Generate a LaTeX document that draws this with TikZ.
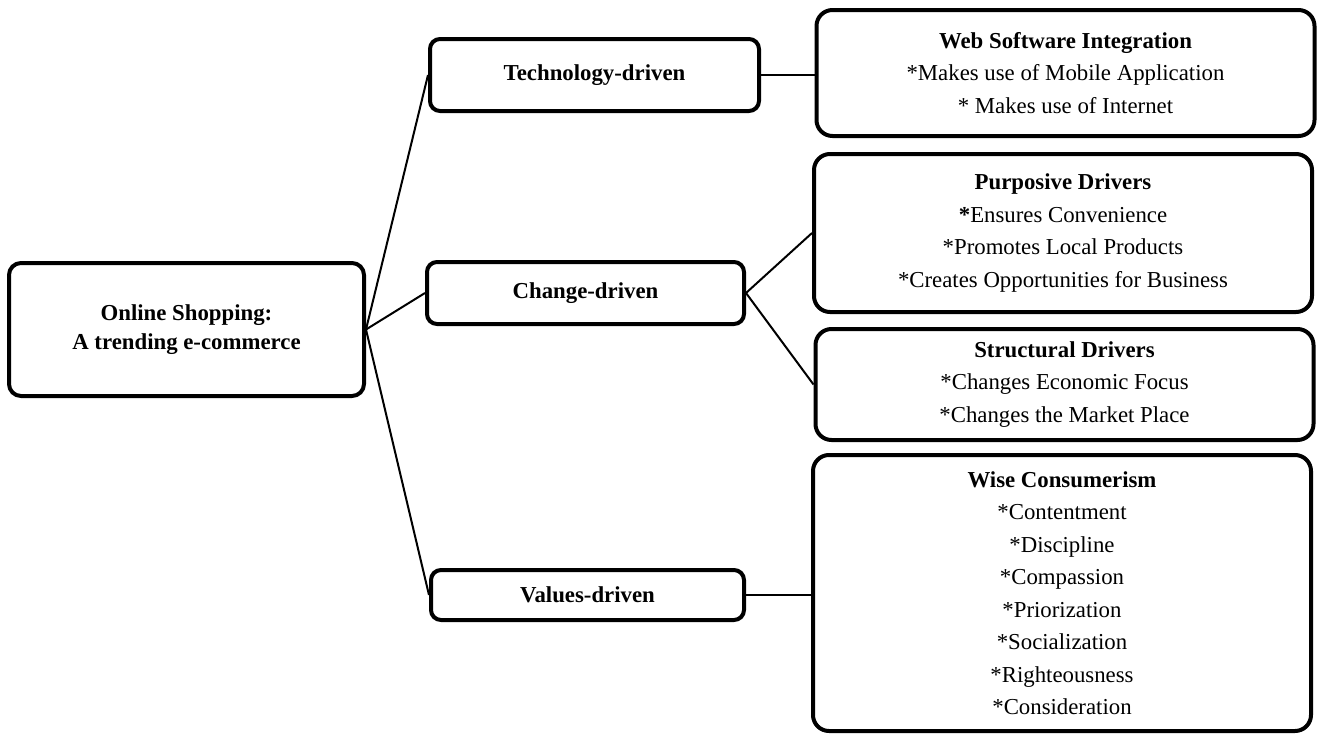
\documentclass[tikz,border=0pt]{standalone}
\usepackage{fontspec}
\setmainfont{Liberation Serif}
\usepackage{tikz}
\usetikzlibrary{positioning}

\begin{document}
\begin{tikzpicture}[
  x=1pt,y=-1pt,
  font=\fontsize{22.8}{32.5}\selectfont,
  root/.style={draw=black,line width=4pt,rounded corners=12pt,align=center,font=\fontsize{22.8}{29.5}\selectfont\bfseries,inner sep=0pt},
  branch/.style={draw=black,line width=4pt,rounded corners=10pt,align=center,font=\fontsize{22.8}{32.5}\selectfont\bfseries,inner sep=0pt},
  leaf/.style={draw=black,line width=4pt,rounded corners=16pt,align=center,inner sep=0pt,minimum width=498pt},
  link/.style={line width=2pt,draw=black}
]
\useasboundingbox (0,0) rectangle (1318,734);
\node[root,minimum width=355pt,minimum height=133pt] (shop) at (186.5,329.5) {Online Shopping:\\A trending e-commerce};
\node[branch,minimum width=329pt,minimum height=72pt] (tech) at (594.5,75) {Technology-driven};
\node[branch,minimum width=317pt,minimum height=62pt] (change) at (585.5,293) {Change-driven};
\node[branch,minimum width=313pt,minimum height=50pt] (values) at (587.5,595) {Values-driven};
\node[leaf,minimum height=126pt] (web) at (1065.5,73) {\textbf{Web Software Integration}\\*Makes use of Mobile Application\\* Makes use of Internet};
\node[leaf,minimum height=158pt] (purpose) at (1063,233) {\textbf{Purposive Drivers}\\\textbf{*}Ensures Convenience\\*Promotes Local Products\\*Creates Opportunities for Business};
\node[leaf,minimum height=111pt] (struct) at (1064.5,384.5) {\textbf{Structural Drivers}\\*Changes Economic Focus\\*Changes the Market Place};
\node[leaf,minimum height=276pt] (wise) at (1062,593) {\textbf{Wise Consumerism}\\*Contentment\\*Discipline\\*Compassion\\*Priorization\\*Socialization\\*Righteousness\\*Consideration};

\draw[link] (shop.east) -- (tech.west);
\draw[link] (shop.east) -- (change.west);
\draw[link] (shop.east) -- (values.west);
\draw[link] (tech.east) -- (tech.east -| web.west);
\draw[link] (change.east) -- (purpose.west);
\draw[link] (change.east) -- (struct.west);
\draw[link] (values.east) -- (values.east -| wise.west);
\end{tikzpicture}
\end{document}
